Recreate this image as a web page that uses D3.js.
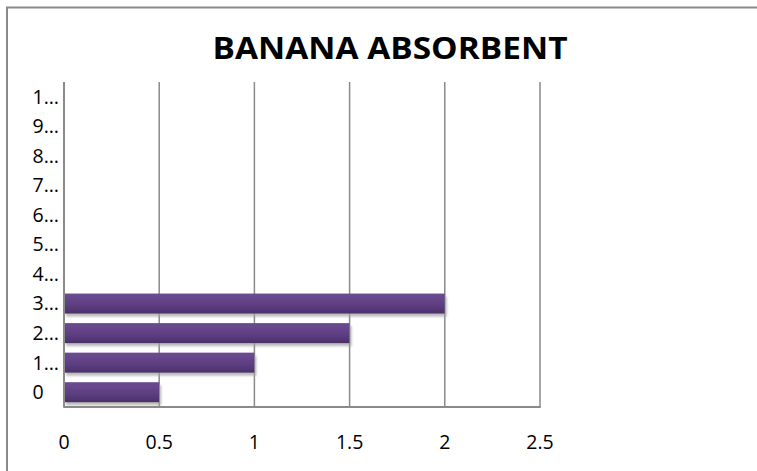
<!DOCTYPE html>
<html>
<head>
<meta charset="utf-8">
<script src="https://cdn.jsdelivr.net/npm/d3@7"></script>
<style>
  html, body { margin: 0; padding: 0; background: #fff; }
  svg { display: block; font-family: "Open Sans", Lato, sans-serif; }
</style>
</head>
<body>
<svg id="chart" width="757" height="471"></svg>
<script>
// Category labels as shown on the vertical axis (bottom to top)
const categories = ["0", "1…", "2…", "3…", "4…", "5…", "6…", "7…", "8…", "9…", "1…"];
// Bar values, one per category
const values = [0.5, 1, 1.5, 2, 0, 0, 0, 0, 0, 0, 0];
// Horizontal axis tick values
const xTicks = [0, 0.5, 1, 1.5, 2, 2.5];
const title = "BANANA ABSORBENT";

const W = 757, H = 471;
const plot = { left: 64, right: 540, top: 82, bottom: 407 };
const tickFont = 19.5;

const svg = d3.select("#chart");

// Gradient + soft shadow for the bars
const defs = svg.append("defs");
const grad = defs.append("linearGradient")
  .attr("id", "barGrad").attr("x1", 0).attr("y1", 0).attr("x2", 0).attr("y2", 1);
grad.append("stop").attr("offset", "0%").attr("stop-color", "#6d4c92");
grad.append("stop").attr("offset", "55%").attr("stop-color", "#5e3f82");
grad.append("stop").attr("offset", "100%").attr("stop-color", "#4b3069");

const shadow = defs.append("filter").attr("id", "barShadow")
  .attr("x", "-5%").attr("y", "-20%").attr("width", "115%").attr("height", "160%");
shadow.append("feDropShadow")
  .attr("dx", 2).attr("dy", 3).attr("stdDeviation", 1.2)
  .attr("flood-color", "#a0a0a0").attr("flood-opacity", 0.7);

// Outer chart frame
svg.append("path")
  .attr("d", `M7,${H + 2} L7,7.5 L${W + 2},7.5`)
  .attr("fill", "none").attr("stroke", "#8a8a8a").attr("stroke-width", 2);

// Scales
const x = d3.scaleLinear().domain([0, 2.5]).range([plot.left, plot.right]);
const y = d3.scaleBand().domain(d3.range(categories.length))
  .range([plot.bottom, plot.top]).paddingInner(0.32).paddingOuter(0.16);

// Title, stretched to the chart's title width
svg.append("text")
  .attr("x", 212.5).attr("y", 58.5)
  .attr("font-weight", "bold")
  .attr("font-size", 29.5)
  .attr("textLength", 355)
  .attr("lengthAdjust", "spacingAndGlyphs")
  .attr("fill", "#000")
  .text(title);

// Vertical gridlines
svg.append("g")
  .selectAll("line")
  .data(xTicks.slice(1))
  .join("line")
  .attr("x1", d => x(d)).attr("x2", d => x(d))
  .attr("y1", plot.top).attr("y2", plot.bottom)
  .attr("stroke", "#8a8a8a").attr("stroke-width", 1.5);

// Bars
svg.append("g")
  .selectAll("rect")
  .data(values.map((v, i) => ({ v, i })).filter(d => d.v > 0))
  .join("rect")
  .attr("x", x(0))
  .attr("y", d => y(d.i))
  .attr("width", d => x(d.v) - x(0))
  .attr("height", y.bandwidth())
  .attr("fill", "url(#barGrad)")
  .attr("filter", "url(#barShadow)");

// Axis lines
svg.append("line")
  .attr("x1", plot.left).attr("x2", plot.left)
  .attr("y1", plot.top).attr("y2", plot.bottom + 0.75)
  .attr("stroke", "#8a8a8a").attr("stroke-width", 2);
svg.append("line")
  .attr("x1", plot.left).attr("x2", plot.right + 0.75)
  .attr("y1", plot.bottom).attr("y2", plot.bottom)
  .attr("stroke", "#8a8a8a").attr("stroke-width", 2);

// X tick labels
svg.append("g")
  .selectAll("text")
  .data(xTicks)
  .join("text")
  .attr("x", d => x(d))
  .attr("y", 448.5)
  .attr("text-anchor", "middle")
  .attr("font-size", tickFont)
  .attr("fill", "#000")
  .text(d => d3.format("")(d));

// Y category labels
svg.append("g")
  .selectAll("text")
  .data(categories)
  .join("text")
  .attr("x", 32.5)
  .attr("y", (d, i) => y(i) + y.bandwidth() / 2 + 6.9)
  .attr("text-anchor", "start")
  .attr("font-size", tickFont)
  .attr("fill", "#000")
  .text(d => d);
</script>
</body>
</html>
